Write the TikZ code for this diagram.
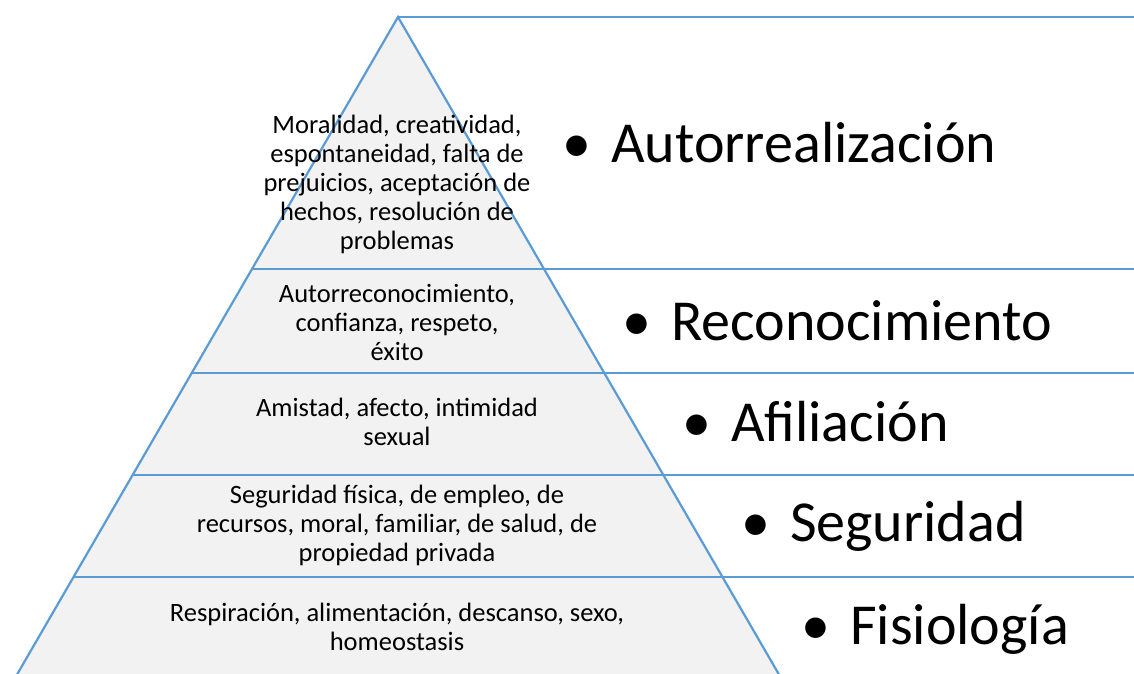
\documentclass[tikz,border=0pt]{standalone}
\usepackage{fontspec}
\setmainfont{Carlito}
\definecolor{linea}{HTML}{5B9BD5}
\definecolor{relleno}{HTML}{F2F2F2}
\begin{document}
\begin{tikzpicture}[x=1pt,y=-1pt,
  borde/.style={draw=linea,line width=2.2pt},
  nivel/.style={align=center,inner sep=0pt,font=\fontsize{26.5}{29}\selectfont},
  etiqueta/.style={anchor=base west,inner sep=0pt,font=\fontsize{58}{60}\selectfont}]
\useasboundingbox (0,0) rectangle (1134,673);
\clip (0,0) rectangle (1134,673);
\coordinate (cima) at (398,17);
\coordinate (izq) at (4,697);
\coordinate (der) at (792,697);
\fill[relleno] (cima) -- (izq) -- (der) -- cycle;
\draw[borde] (izq) -- (cima) -- (der);
\draw[borde] (cima) -- (1134,17);
\foreach \y in {269,373,475,577}
  \draw[borde] ({398-0.579*(\y-17)},\y) -- (1134,\y);
\node[nivel] (n1) at (397,184) {Moralidad, creatividad,\\espontaneidad, falta de\\prejuicios, aceptación de\\hechos, resolución de\\problemas};
\node[nivel] (n2) at (397,322) {Autorreconocimiento,\\confianza, respeto,\\éxito};
\node[nivel] (n3) at (397,422) {Amistad, afecto, intimidad\\sexual};
\node[nivel] (n4) at (397,525) {Seguridad física, de empleo, de\\recursos, moral, familiar, de salud, de\\propiedad privada};
\node[nivel] (n5) at (397,627) {Respiración, alimentación, descanso, sexo,\\homeostasis};
\node[etiqueta] (e1) at (611,162) {\llap{\textbullet\hspace{20pt}}Autorrealización};
\node[etiqueta] (e2) at (671,340) {\llap{\textbullet\hspace{20pt}}Reconocimiento};
\node[etiqueta] (e3) at (731,441) {\llap{\textbullet\hspace{20pt}}Afiliación};
\node[etiqueta] (e4) at (790,541) {\llap{\textbullet\hspace{20pt}}Seguridad};
\node[etiqueta] (e5) at (850,644) {\llap{\textbullet\hspace{20pt}}Fisiología};
\end{tikzpicture}
\end{document}
